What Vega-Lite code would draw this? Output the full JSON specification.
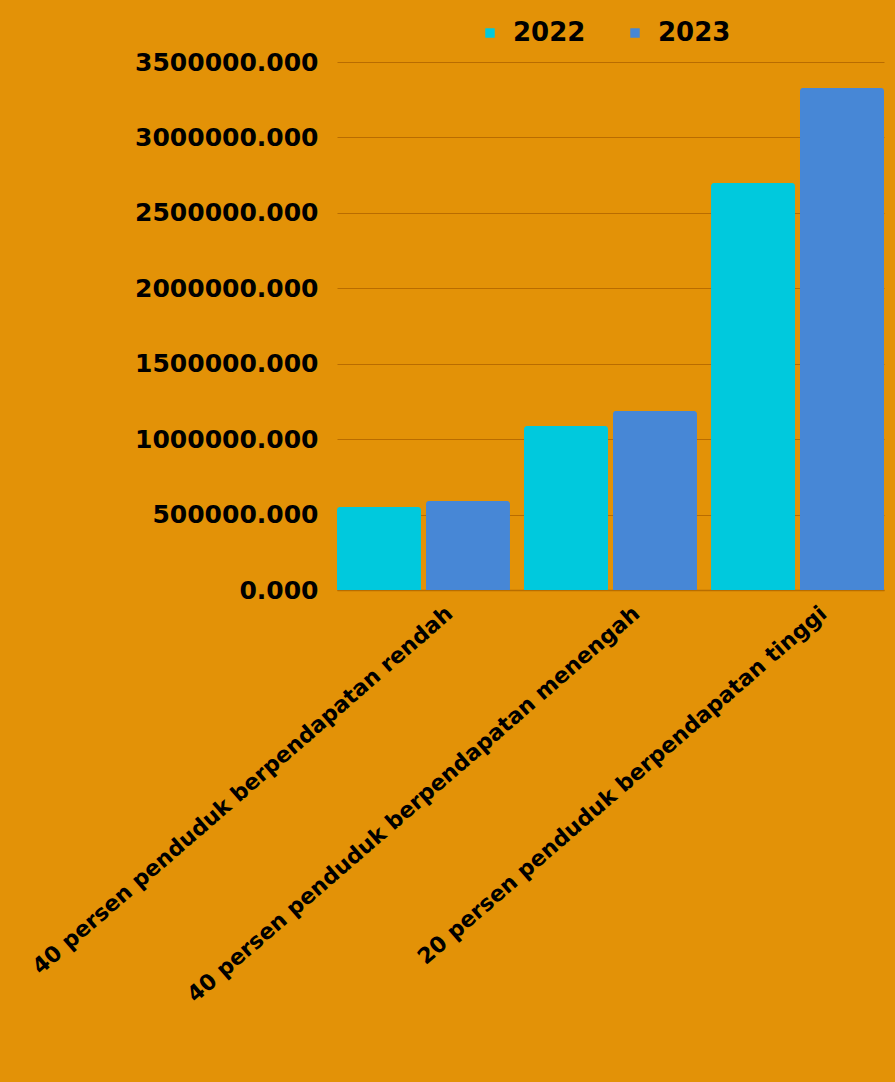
{
  "$schema": "https://vega.github.io/schema/vega-lite/v6.json",
  "autosize": {"type": "none"},
  "width": 547,
  "height": 528,
  "padding": {"left": 337, "top": 62, "right": 11, "bottom": 492},
  "background": "#E39207",
  "config": {
    "view": {"stroke": null},
    "font": "DejaVu Sans"
  },
  "data": {
    "values": [
      {"kelompok": "40 persen penduduk berpendapatan rendah", "tahun": "2022", "nilai": 550000},
      {"kelompok": "40 persen penduduk berpendapatan rendah", "tahun": "2023", "nilai": 590000},
      {"kelompok": "40 persen penduduk berpendapatan menengah", "tahun": "2022", "nilai": 1087000},
      {"kelompok": "40 persen penduduk berpendapatan menengah", "tahun": "2023", "nilai": 1187000},
      {"kelompok": "20 persen penduduk berpendapatan tinggi", "tahun": "2022", "nilai": 2698000},
      {"kelompok": "20 persen penduduk berpendapatan tinggi", "tahun": "2023", "nilai": 3328000}
    ]
  },
  "mark": {"type": "bar", "cornerRadiusTopLeft": 3, "cornerRadiusTopRight": 3},
  "encoding": {
    "x": {
      "field": "kelompok",
      "type": "nominal",
      "sort": null,
      "scale": {"paddingInner": 0.075, "paddingOuter": 0},
      "axis": {
        "title": null,
        "labelAngle": -41,
        "labelAlign": "right",
        "labelBaseline": "middle",
        "labelFont": "DejaVu Sans",
        "labelFontWeight": "bold",
        "labelFontSize": 22,
        "labelColor": "#000000",
        "labelLimit": 800,
        "labelOffset": 26,
        "labelPadding": 20,
        "ticks": false,
        "domain": true,
        "domainColor": "#B86D00",
        "domainWidth": 1.5
      }
    },
    "xOffset": {
      "field": "tahun",
      "type": "nominal",
      "scale": {"paddingInner": 0.056, "paddingOuter": 0}
    },
    "y": {
      "field": "nilai",
      "type": "quantitative",
      "scale": {"domain": [0, 3500000], "nice": false},
      "axis": {
        "title": null,
        "format": ".3f",
        "values": [0, 500000, 1000000, 1500000, 2000000, 2500000, 3000000, 3500000],
        "labelFont": "DejaVu Sans",
        "labelFontWeight": "bold",
        "labelFontSize": 25,
        "labelColor": "#000000",
        "labelLimit": 400,
        "labelPadding": 19,
        "ticks": false,
        "domain": false,
        "grid": true,
        "gridColor": "#B96C00",
        "gridWidth": 1.2
      }
    },
    "color": {
      "field": "tahun",
      "type": "nominal",
      "scale": {"domain": ["2022", "2023"], "range": ["#00C9DD", "#4787D6"]},
      "legend": {
        "title": null,
        "orient": "none",
        "direction": "horizontal",
        "legendX": 140,
        "legendY": -42,
        "symbolType": "square",
        "symbolSize": 90,
        "labelFont": "DejaVu Sans",
        "labelFontWeight": "bold",
        "labelFontSize": 26,
        "labelColor": "#000000",
        "columnPadding": 36,
        "labelOffset": 10
      }
    }
  }
}
